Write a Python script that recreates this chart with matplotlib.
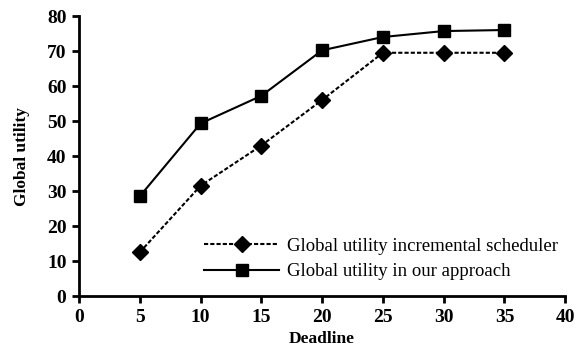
import numpy as np
import matplotlib.pyplot as plt

deadline = [5, 10, 15, 20, 25, 30, 35]
incremental = [12.5, 31.5, 43, 56, 69.5, 69.5, 69.5]
our_approach = [28.5, 49.3, 57.2, 70.2, 74, 75.7, 76]

plt.rcParams["font.family"] = ["Liberation Serif", "DejaVu Serif"]

fig = plt.figure(figsize=(5.83, 3.52), dpi=100)
ax = fig.add_axes([0.1355, 0.159, 0.834, 0.7955])

ax.plot(deadline, incremental, color="black", linestyle=(0, (2, 1)), linewidth=1.5,
        marker="D", markersize=8, label="Global utility incremental scheduler")
ax.plot(deadline, our_approach, color="black", linestyle="-", linewidth=1.5,
        marker="s", markersize=8, label="Global utility in our approach")

ax.set_xlim(0, 40)
ax.set_ylim(0, 80)
ax.set_xticks(np.arange(0, 41, 5))
ax.set_yticks(np.arange(0, 81, 10))
ax.spines["top"].set_visible(False)
ax.spines["right"].set_visible(False)
ax.spines["left"].set_linewidth(2)
ax.spines["bottom"].set_linewidth(2)
ax.tick_params(direction="out", width=2, length=5, labelsize=14, pad=4)
for lab in ax.get_xticklabels() + ax.get_yticklabels():
    lab.set_fontweight("bold")

ax.set_xlabel("Deadline", fontsize=12.5, fontweight="bold", labelpad=4)
ax.set_ylabel("Global utility", fontsize=12.5, fontweight="bold", labelpad=12)

ax.legend(loc="lower right", bbox_to_anchor=(1.0, 0.03), frameon=False, fontsize=13.5,
          handlelength=4.0, handletextpad=0.4, labelspacing=0.45, borderaxespad=0)

fig.savefig("out.png", dpi=100)
